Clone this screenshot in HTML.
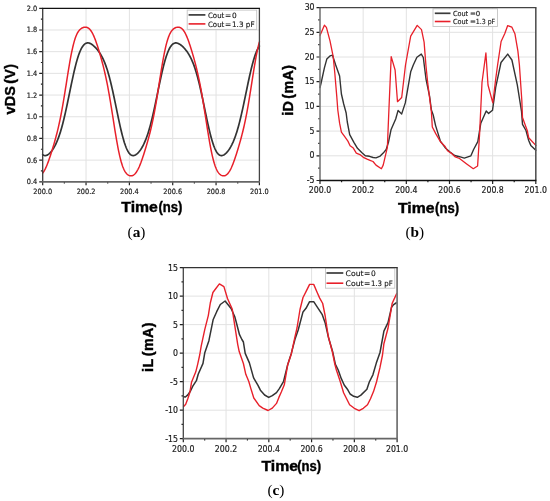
<!DOCTYPE html>
<html><head><meta charset="utf-8"><title>Figure</title><style>
html,body{margin:0;padding:0;background:#fff;}
body{width:550px;height:501px;overflow:hidden;}
svg{display:block;}
</style></head><body>
<svg width="550" height="501" viewBox="0 0 550 501">
<rect width="550" height="501" fill="#fff"/>
<path d="M42.7 160.11H259.4M42.7 138.43H259.4M42.7 116.74H259.4M42.7 95.05H259.4M42.7 73.36H259.4M42.7 51.67H259.4M42.7 29.99H259.4M86.04 8.3V181.8M129.38 8.3V181.8M172.72 8.3V181.8M216.06 8.3V181.8" stroke="#e2e2e2" stroke-width="1" fill="none"/>
<path d="M42.7 154.66 L43.24 155.02 L43.78 155.29 L44.33 155.47 L44.87 155.57 L45.41 155.57 L45.95 155.51 L46.49 155.37 L47.03 155.16 L47.58 154.88 L48.12 154.54 L48.66 154.15 L49.2 153.7 L49.74 153.19 L50.28 152.64 L50.83 152.03 L51.37 151.38 L51.91 150.67 L52.45 149.92 L52.99 149.11 L53.54 148.26 L54.08 147.35 L54.62 146.38 L55.16 145.36 L55.7 144.27 L56.24 143.13 L56.79 141.92 L57.33 140.63 L57.87 139.28 L58.41 137.86 L58.95 136.36 L59.49 134.78 L60.04 133.13 L60.58 131.39 L61.12 129.58 L61.66 127.69 L62.2 125.71 L62.74 123.66 L63.29 121.53 L63.83 119.34 L64.37 117.07 L64.91 114.73 L65.45 112.34 L66 109.89 L66.54 107.39 L67.08 104.85 L67.62 102.27 L68.16 99.67 L68.7 97.04 L69.25 94.41 L69.79 91.77 L70.33 89.13 L70.87 86.51 L71.41 83.91 L71.95 81.34 L72.5 78.81 L73.04 76.33 L73.58 73.9 L74.12 71.53 L74.66 69.24 L75.21 67.02 L75.75 64.88 L76.29 62.83 L76.83 60.87 L77.37 59.01 L77.91 57.25 L78.46 55.6 L79 54.04 L79.54 52.6 L80.08 51.26 L80.62 50.03 L81.16 48.9 L81.71 47.88 L82.25 46.97 L82.79 46.16 L83.33 45.45 L83.87 44.83 L84.41 44.31 L84.96 43.88 L85.5 43.54 L86.04 43.27 L86.58 43.09 L87.12 42.97 L87.67 42.93 L88.21 42.95 L88.75 43.03 L89.29 43.16 L89.83 43.35 L90.37 43.58 L90.92 43.85 L91.46 44.17 L92 44.53 L92.54 44.91 L93.08 45.34 L93.62 45.79 L94.17 46.27 L94.71 46.78 L95.25 47.32 L95.79 47.88 L96.33 48.47 L96.88 49.1 L97.42 49.75 L97.96 50.43 L98.5 51.15 L99.04 51.9 L99.58 52.69 L100.13 53.53 L100.67 54.4 L101.21 55.33 L101.75 56.3 L102.29 57.34 L102.83 58.42 L103.38 59.58 L103.92 60.79 L104.46 62.08 L105 63.43 L105.54 64.86 L106.08 66.37 L106.63 67.95 L107.17 69.61 L107.71 71.35 L108.25 73.18 L108.79 75.08 L109.34 77.06 L109.88 79.12 L110.42 81.26 L110.96 83.47 L111.5 85.75 L112.04 88.09 L112.59 90.49 L113.13 92.95 L113.67 95.45 L114.21 98 L114.75 100.57 L115.29 103.18 L115.84 105.8 L116.38 108.43 L116.92 111.06 L117.46 113.68 L118 116.28 L118.54 118.85 L119.09 121.39 L119.63 123.88 L120.17 126.31 L120.71 128.69 L121.25 130.99 L121.8 133.21 L122.34 135.35 L122.88 137.39 L123.42 139.34 L123.96 141.18 L124.5 142.92 L125.05 144.55 L125.59 146.06 L126.13 147.46 L126.67 148.74 L127.21 149.9 L127.75 150.95 L128.3 151.89 L128.84 152.71 L129.38 153.42 L129.92 154.02 L130.46 154.52 L131.01 154.91 L131.55 155.21 L132.09 155.42 L132.63 155.54 L133.17 155.58 L133.71 155.54 L134.26 155.42 L134.8 155.24 L135.34 154.99 L135.88 154.67 L136.42 154.3 L136.96 153.87 L137.51 153.39 L138.05 152.86 L138.59 152.27 L139.13 151.64 L139.67 150.96 L140.21 150.23 L140.76 149.45 L141.3 148.61 L141.84 147.73 L142.38 146.79 L142.92 145.8 L143.47 144.74 L144.01 143.63 L144.55 142.45 L145.09 141.2 L145.63 139.89 L146.17 138.5 L146.72 137.04 L147.26 135.51 L147.8 133.9 L148.34 132.21 L148.88 130.44 L149.42 128.59 L149.97 126.66 L150.51 124.65 L151.05 122.57 L151.59 120.41 L152.13 118.19 L152.68 115.9 L153.22 113.54 L153.76 111.13 L154.3 108.66 L154.84 106.15 L155.38 103.6 L155.93 101.02 L156.47 98.42 L157.01 95.8 L157.55 93.17 L158.09 90.54 L158.63 87.92 L159.18 85.32 L159.72 82.74 L160.26 80.2 L160.8 77.7 L161.34 75.25 L161.89 72.86 L162.43 70.53 L162.97 68.28 L163.51 66.1 L164.05 64.01 L164.59 62.01 L165.14 60.1 L165.68 58.28 L166.22 56.57 L166.76 54.96 L167.3 53.46 L167.84 52.06 L168.39 50.77 L168.93 49.58 L169.47 48.5 L170.01 47.53 L170.55 46.66 L171.09 45.89 L171.64 45.21 L172.18 44.64 L172.72 44.15 L173.26 43.75 L173.8 43.44 L174.35 43.2 L174.89 43.04 L175.43 42.95 L175.97 42.93 L176.51 42.97 L177.05 43.06 L177.6 43.21 L178.14 43.41 L178.68 43.66 L179.22 43.95 L179.76 44.27 L180.3 44.64 L180.85 45.04 L181.39 45.46 L181.93 45.92 L182.47 46.41 L183.01 46.93 L183.56 47.47 L184.1 48.04 L184.64 48.64 L185.18 49.26 L185.72 49.92 L186.26 50.61 L186.81 51.33 L187.35 52.09 L187.89 52.89 L188.43 53.73 L188.97 54.61 L189.51 55.55 L190.06 56.53 L190.6 57.57 L191.14 58.67 L191.68 59.83 L192.22 61.05 L192.76 62.35 L193.31 63.71 L193.85 65.15 L194.39 66.66 L194.93 68.25 L195.47 69.92 L196.02 71.67 L196.56 73.5 L197.1 75.41 L197.64 77.4 L198.18 79.47 L198.72 81.61 L199.27 83.82 L199.81 86.1 L200.35 88.44 L200.89 90.84 L201.43 93.29 L201.97 95.79 L202.52 98.33 L203.06 100.9 L203.6 103.5 L204.14 106.11 L204.68 108.73 L205.22 111.35 L205.77 113.95 L206.31 116.54 L206.85 119.1 L207.39 121.62 L207.93 124.1 L208.48 126.52 L209.02 128.88 L209.56 131.16 L210.1 133.37 L210.64 135.49 L211.18 137.52 L211.73 139.45 L212.27 141.28 L212.81 143.01 L213.35 144.62 L213.89 146.12 L214.43 147.51 L214.98 148.78 L215.52 149.94 L216.06 150.98 L216.6 151.91 L217.14 152.72 L217.69 153.43 L218.23 154.03 L218.77 154.52 L219.31 154.91 L219.85 155.21 L220.39 155.42 L220.94 155.54 L221.48 155.58 L222.02 155.54 L222.56 155.43 L223.1 155.24 L223.64 155 L224.19 154.69 L224.73 154.32 L225.27 153.89 L225.81 153.42 L226.35 152.89 L226.89 152.31 L227.44 151.68 L227.98 151 L228.52 150.28 L229.06 149.5 L229.6 148.68 L230.15 147.8 L230.69 146.87 L231.23 145.88 L231.77 144.84 L232.31 143.74 L232.85 142.57 L233.4 141.33 L233.94 140.03 L234.48 138.66 L235.02 137.22 L235.56 135.7 L236.1 134.1 L236.65 132.43 L237.19 130.67 L237.73 128.84 L238.27 126.93 L238.81 124.94 L239.36 122.88 L239.9 120.75 L240.44 118.54 L240.98 116.27 L241.52 113.93 L242.06 111.54 L242.61 109.09 L243.15 106.6 L243.69 104.07 L244.23 101.5 L244.77 98.91 L245.31 96.3 L245.86 93.69 L246.4 91.07 L246.94 88.46 L247.48 85.86 L248.02 83.29 L248.56 80.75 L249.11 78.25 L249.65 75.8 L250.19 73.4 L250.73 71.07 L251.27 68.81 L251.82 66.62 L252.36 64.52 L252.9 62.5 L253.44 60.57 L253.98 58.74 L254.52 57.01 L255.07 55.38 L255.61 53.85 L256.15 52.43 L256.69 51.12 L257.23 49.91 L257.77 48.8 L258.32 47.8 L258.86 46.91 L259.4 46.11" stroke="#333333" stroke-width="1.7" fill="none" stroke-linejoin="round" stroke-linecap="round"/>
<path d="M42.7 173.02 L43.24 172.3 L43.78 171.49 L44.33 170.6 L44.87 169.63 L45.41 168.57 L45.95 167.43 L46.49 166.21 L47.03 164.92 L47.58 163.56 L48.12 162.14 L48.66 160.66 L49.2 159.12 L49.74 157.54 L50.28 155.92 L50.83 154.26 L51.37 152.56 L51.91 150.83 L52.45 149.07 L52.99 147.29 L53.54 145.47 L54.08 143.62 L54.62 141.73 L55.16 139.8 L55.7 137.83 L56.24 135.81 L56.79 133.73 L57.33 131.59 L57.87 129.38 L58.41 127.08 L58.95 124.7 L59.49 122.23 L60.04 119.67 L60.58 117.01 L61.12 114.25 L61.66 111.38 L62.2 108.42 L62.74 105.37 L63.29 102.23 L63.83 99 L64.37 95.71 L64.91 92.36 L65.45 88.96 L66 85.54 L66.54 82.1 L67.08 78.66 L67.62 75.25 L68.16 71.87 L68.7 68.56 L69.25 65.32 L69.79 62.17 L70.33 59.13 L70.87 56.22 L71.41 53.43 L71.95 50.8 L72.5 48.31 L73.04 45.99 L73.58 43.83 L74.12 41.84 L74.66 40.01 L75.21 38.34 L75.75 36.83 L76.29 35.47 L76.83 34.26 L77.37 33.18 L77.91 32.22 L78.46 31.38 L79 30.65 L79.54 30.01 L80.08 29.46 L80.62 28.98 L81.16 28.57 L81.71 28.22 L82.25 27.92 L82.79 27.68 L83.33 27.48 L83.87 27.33 L84.41 27.22 L84.96 27.16 L85.5 27.16 L86.04 27.2 L86.58 27.3 L87.12 27.46 L87.67 27.69 L88.21 27.99 L88.75 28.37 L89.29 28.83 L89.83 29.37 L90.37 30 L90.92 30.72 L91.46 31.53 L92 32.43 L92.54 33.42 L93.08 34.5 L93.62 35.67 L94.17 36.92 L94.71 38.24 L95.25 39.64 L95.79 41.11 L96.33 42.63 L96.88 44.22 L97.42 45.85 L97.96 47.54 L98.5 49.26 L99.04 51.03 L99.58 52.84 L100.13 54.69 L100.67 56.57 L101.21 58.5 L101.75 60.47 L102.29 62.49 L102.83 64.56 L103.38 66.68 L103.92 68.87 L104.46 71.13 L105 73.47 L105.54 75.89 L106.08 78.39 L106.63 80.98 L107.17 83.67 L107.71 86.45 L108.25 89.33 L108.79 92.3 L109.34 95.37 L109.88 98.52 L110.42 101.75 L110.96 105.05 L111.5 108.41 L112.04 111.81 L112.59 115.25 L113.13 118.71 L113.67 122.16 L114.21 125.6 L114.75 129.01 L115.29 132.37 L115.84 135.66 L116.38 138.87 L116.92 141.98 L117.46 144.98 L118 147.85 L118.54 150.59 L119.09 153.19 L119.63 155.63 L120.17 157.91 L120.71 160.04 L121.25 162 L121.8 163.81 L122.34 165.46 L122.88 166.95 L123.42 168.3 L123.96 169.51 L124.5 170.59 L125.05 171.54 L125.59 172.38 L126.13 173.11 L126.67 173.74 L127.21 174.27 L127.75 174.72 L128.3 175.09 L128.84 175.38 L129.38 175.61 L129.92 175.76 L130.46 175.85 L131.01 175.87 L131.55 175.82 L132.09 175.7 L132.63 175.51 L133.17 175.25 L133.71 174.92 L134.26 174.5 L134.8 174.01 L135.34 173.43 L135.88 172.76 L136.42 172.01 L136.96 171.17 L137.51 170.24 L138.05 169.23 L138.59 168.13 L139.13 166.96 L139.67 165.7 L140.21 164.38 L140.76 162.99 L141.3 161.53 L141.84 160.02 L142.38 158.46 L142.92 156.86 L143.47 155.21 L144.01 153.52 L144.55 151.81 L145.09 150.06 L145.63 148.28 L146.17 146.47 L146.72 144.63 L147.26 142.75 L147.8 140.84 L148.34 138.89 L148.88 136.89 L149.42 134.83 L149.97 132.71 L150.51 130.52 L151.05 128.26 L151.59 125.92 L152.13 123.48 L152.68 120.96 L153.22 118.33 L153.76 115.61 L154.3 112.78 L154.84 109.86 L155.38 106.84 L155.93 103.72 L156.47 100.52 L157.01 97.24 L157.55 93.9 L158.09 90.51 L158.63 87.08 L159.18 83.63 L159.72 80.18 L160.26 76.74 L160.8 73.33 L161.34 69.97 L161.89 66.68 L162.43 63.48 L162.97 60.38 L163.51 57.4 L164.05 54.55 L164.59 51.84 L165.14 49.29 L165.68 46.89 L166.22 44.65 L166.76 42.59 L167.3 40.69 L167.84 38.95 L168.39 37.38 L168.93 35.96 L169.47 34.68 L170.01 33.55 L170.55 32.55 L171.09 31.67 L171.64 30.89 L172.18 30.22 L172.72 29.64 L173.26 29.13 L173.8 28.7 L174.35 28.32 L174.89 28.01 L175.43 27.75 L175.97 27.54 L176.51 27.37 L177.05 27.25 L177.6 27.18 L178.14 27.15 L178.68 27.18 L179.22 27.27 L179.76 27.41 L180.3 27.62 L180.85 27.9 L181.39 28.26 L181.93 28.7 L182.47 29.22 L183.01 29.83 L183.56 30.53 L184.1 31.32 L184.64 32.2 L185.18 33.18 L185.72 34.24 L186.26 35.39 L186.81 36.63 L187.35 37.94 L187.89 39.33 L188.43 40.79 L188.97 42.31 L189.51 43.89 L190.06 45.52 L190.6 47.2 L191.14 48.93 L191.68 50.69 L192.22 52.5 L192.76 54.35 L193.31 56.24 L193.85 58.16 L194.39 60.13 L194.93 62.15 L195.47 64.22 L196.02 66.35 L196.56 68.54 L197.1 70.8 L197.64 73.13 L198.18 75.55 L198.72 78.05 L199.27 80.64 L199.81 83.33 L200.35 86.11 L200.89 88.99 L201.43 91.96 L201.97 95.03 L202.52 98.19 L203.06 101.42 L203.6 104.73 L204.14 108.1 L204.68 111.52 L205.22 114.97 L205.77 118.43 L206.31 121.91 L206.85 125.36 L207.39 128.79 L207.93 132.17 L208.48 135.48 L209.02 138.71 L209.56 141.83 L210.1 144.85 L210.64 147.74 L211.18 150.5 L211.73 153.11 L212.27 155.56 L212.81 157.86 L213.35 160 L213.89 161.97 L214.43 163.79 L214.98 165.45 L215.52 166.95 L216.06 168.31 L216.6 169.52 L217.14 170.6 L217.69 171.56 L218.23 172.39 L218.77 173.12 L219.31 173.75 L219.85 174.29 L220.39 174.74 L220.94 175.1 L221.48 175.4 L222.02 175.62 L222.56 175.77 L223.1 175.85 L223.64 175.87 L224.19 175.81 L224.73 175.69 L225.27 175.5 L225.81 175.23 L226.35 174.89 L226.89 174.46 L227.44 173.96 L227.98 173.37 L228.52 172.69 L229.06 171.92 L229.6 171.07 L230.15 170.13 L230.69 169.11 L231.23 167.99 L231.77 166.8 L232.31 165.54 L232.85 164.2 L233.4 162.79 L233.94 161.32 L234.48 159.8 L235.02 158.22 L235.56 156.6 L236.1 154.94 L236.65 153.24 L237.19 151.51 L237.73 149.75 L238.27 147.96 L238.81 146.14 L239.36 144.28 L239.9 142.39 L240.44 140.47 L240.98 138.49 L241.52 136.47 L242.06 134.4 L242.61 132.26 L243.15 130.04 L243.69 127.75 L244.23 125.38 L244.77 122.92 L245.31 120.36 L245.86 117.7 L246.4 114.94 L246.94 112.08 L247.48 109.11 L248.02 106.05 L248.56 102.9 L249.11 99.67 L249.65 96.36 L250.19 92.99 L250.73 89.57 L251.27 86.12 L251.82 82.65 L252.36 79.19 L252.9 75.74 L253.44 72.33 L253.98 68.98 L254.52 65.7 L255.07 62.51 L255.61 59.44 L256.15 56.48 L256.69 53.66 L257.23 50.99 L257.77 48.48 L258.32 46.12 L258.86 43.94 L259.4 41.92" stroke="#e8202a" stroke-width="1.5" fill="none" stroke-linejoin="round" stroke-linecap="round"/>
<rect x="187.2" y="10.1" width="69.5" height="19.3" fill="#fff" stroke="#c4c4c4" stroke-width="0.9"/>
<line x1="188.6" y1="14.9" x2="205.4" y2="14.9" stroke="#3a3a3a" stroke-width="1.7"/>
<line x1="188.6" y1="23.9" x2="205.4" y2="23.9" stroke="#e8202a" stroke-width="1.6"/>
<g font-family='"DejaVu Sans", "Liberation Sans", sans-serif' font-size="7.4" fill="#1a1a1a" stroke="#1a1a1a" stroke-width="0.15"><text x="208" y="17.6"><tspan textLength="16.3" lengthAdjust="spacingAndGlyphs">Cout</tspan> <tspan x="225">=</tspan><tspan x="232">0</tspan></text><text x="208" y="26.6"><tspan textLength="16.3" lengthAdjust="spacingAndGlyphs">Cout</tspan> <tspan x="225">=</tspan><tspan x="232" textLength="22.6" lengthAdjust="spacingAndGlyphs">1.3 pF</tspan></text></g>
<path d="M39.2 181.8H42.7M40.9 170.96H42.7M39.2 160.11H42.7M40.9 149.27H42.7M39.2 138.43H42.7M40.9 127.58H42.7M39.2 116.74H42.7M40.9 105.89H42.7M39.2 95.05H42.7M40.9 84.21H42.7M39.2 73.36H42.7M40.9 62.52H42.7M39.2 51.67H42.7M40.9 40.83H42.7M39.2 29.99H42.7M40.9 19.14H42.7M39.2 8.3H42.7M42.7 181.8V185.3M64.37 181.8V183.6M86.04 181.8V185.3M107.71 181.8V183.6M129.38 181.8V185.3M151.05 181.8V183.6M172.72 181.8V185.3M194.39 181.8V183.6M216.06 181.8V185.3M237.73 181.8V183.6M259.4 181.8V185.3" stroke="#222" stroke-width="1.2" fill="none"/>
<path d="M42.7 8.3V181.8" stroke="#3a3a3a" stroke-width="1.3" fill="none"/>
<path d="M259.4 8.3V181.8" stroke="#444" stroke-width="1.3" fill="none"/>
<path d="M42.1 181.8H260" stroke="#666" stroke-width="1.8" fill="none"/>
<path d="M42.1 8.3H260" stroke="#111" stroke-width="1.2" fill="none"/>
<g font-family='"DejaVu Sans Condensed", "DejaVu Sans", "Liberation Sans", sans-serif' font-size="7.3" fill="#1a1a1a" stroke="#1a1a1a" stroke-width="0.18"><text x="37.3" y="184.26" text-anchor="end">0.4</text><text x="37.3" y="162.57" text-anchor="end">0.6</text><text x="37.3" y="140.89" text-anchor="end">0.8</text><text x="37.3" y="119.2" text-anchor="end">1.0</text><text x="37.3" y="97.51" text-anchor="end">1.2</text><text x="37.3" y="75.82" text-anchor="end">1.4</text><text x="37.3" y="54.14" text-anchor="end">1.6</text><text x="37.3" y="32.45" text-anchor="end">1.8</text><text x="37.3" y="10.76" text-anchor="end">2.0</text><text x="42.7" y="193.86" text-anchor="middle">200.0</text><text x="86.04" y="193.86" text-anchor="middle">200.2</text><text x="129.38" y="193.86" text-anchor="middle">200.4</text><text x="172.72" y="193.86" text-anchor="middle">200.6</text><text x="216.06" y="193.86" text-anchor="middle">200.8</text><text x="259.4" y="193.86" text-anchor="middle">201.0</text></g>
<path d="M320 155.8H535.8M320 131.1H535.8M320 106.4H535.8M320 81.7H535.8M320 57H535.8M320 32.3H535.8M363.16 7.6V180.5M406.32 7.6V180.5M449.48 7.6V180.5M492.64 7.6V180.5" stroke="#e2e2e2" stroke-width="1" fill="none"/>
<path d="M320 87.5 L321.2 82.5 L324.4 67.9 L326.8 59.1 L330 55.9 L332.5 55.2 L335.6 64.7 L339.6 76 L341.4 94 L343.7 104 L346.1 112.7 L347.3 122 L349.7 134.6 L353.9 142.3 L357.5 148.3 L361.7 152.5 L365.3 155.7 L369.5 156.3 L373.1 157.5 L376 157.9 L380.2 156.1 L383.2 153.1 L386.2 149.5 L388.6 141.7 L391 129.8 L395.7 119 L398.1 110.4 L401.7 113.9 L405.3 102.9 L410.7 71.8 L413.3 65 L416.9 57.2 L421.3 54.1 L423.3 57.5 L426 79 L429.6 96.3 L431.4 110 L433.2 115 L435.6 125.6 L440.4 141.1 L445.7 148.3 L450 152 L454.7 155.5 L459.5 156.7 L464.3 158.1 L470.9 155.8 L473.6 149.5 L477.8 141.7 L480.8 123.2 L486.2 111 L488.6 113.4 L492.5 110.3 L495.7 87.3 L501 62.5 L507.7 54.1 L511.9 60 L517.3 84.9 L519.7 100 L521.5 111.3 L522.5 124.4 L526 130.5 L528.7 140.5 L530.8 145.4 L535.8 150.3" stroke="#333333" stroke-width="1.4" fill="none" stroke-linejoin="round" stroke-linecap="round"/>
<path d="M320 35.5 L324.4 25.2 L326.4 27.4 L330 40.8 L333.2 56.7 L334.8 73 L336.8 96.7 L337.8 110 L339.6 123.2 L341.4 132.2 L344.9 136.9 L347.9 141.1 L350.1 145.7 L353.3 148.1 L356.3 153.1 L359.9 154.6 L363.3 157.3 L367.1 159.1 L370 160.3 L373 161.5 L376 165.1 L381.4 168.7 L383.2 165.1 L387.4 147.1 L388 131.6 L388.9 110 L391.2 56.6 L395.1 70 L397.5 101.7 L401.7 97.5 L405.5 65 L410.7 36.1 L417.2 25.4 L421.5 29.6 L424.1 42.1 L425.9 65 L427.8 83.7 L431.4 112 L432.3 127 L435.6 133.4 L440.4 141.7 L445.1 146.5 L447.5 150.7 L451.1 153.1 L455.3 156.9 L459.5 158.5 L466.7 163.9 L473.3 168.7 L477.6 166 L479.6 134 L482 82.5 L485.9 53 L488 85 L492.8 102.9 L495.7 79 L497.6 65 L501.1 41.5 L504.7 33.7 L507.7 25.6 L511.9 27.2 L514.9 33.7 L517.9 51.1 L519.4 65 L521.8 100 L522.5 117.5 L527.3 130.7 L528.7 137.7 L535.8 145.4" stroke="#e8202a" stroke-width="1.3" fill="none" stroke-linejoin="round" stroke-linecap="round"/>
<rect x="433" y="8.8" width="64.5" height="17.7" fill="#fff" stroke="#c4c4c4" stroke-width="0.9"/>
<line x1="434.8" y1="13.3" x2="450.5" y2="13.3" stroke="#3a3a3a" stroke-width="1.7"/>
<line x1="434.8" y1="21.5" x2="450.5" y2="21.5" stroke="#e8202a" stroke-width="1.6"/>
<g font-family='"DejaVu Sans", "Liberation Sans", sans-serif' font-size="7.0" fill="#1a1a1a" stroke="#1a1a1a" stroke-width="0.15"><text x="452.9" y="15.85"><tspan textLength="15.3" lengthAdjust="spacingAndGlyphs">Cout</tspan> <tspan x="470.1">=</tspan><tspan x="475.8">0</tspan></text><text x="452.9" y="24.05"><tspan textLength="15.3" lengthAdjust="spacingAndGlyphs">Cout</tspan> <tspan x="470.1">=</tspan><tspan x="475.8" textLength="19.4" lengthAdjust="spacingAndGlyphs">1.3 pF</tspan></text></g>
<path d="M316.5 180.5H320M318.2 168.15H320M316.5 155.8H320M318.2 143.45H320M316.5 131.1H320M318.2 118.75H320M316.5 106.4H320M318.2 94.05H320M316.5 81.7H320M318.2 69.35H320M316.5 57H320M318.2 44.65H320M316.5 32.3H320M318.2 19.95H320M316.5 7.6H320M320 180.5V184M341.58 180.5V182.3M363.16 180.5V184M384.74 180.5V182.3M406.32 180.5V184M427.9 180.5V182.3M449.48 180.5V184M471.06 180.5V182.3M492.64 180.5V184M514.22 180.5V182.3M535.8 180.5V184" stroke="#222" stroke-width="1.2" fill="none"/>
<path d="M320 7.6V180.5" stroke="#777" stroke-width="1.6" fill="none"/>
<path d="M535.8 7.6V180.5" stroke="#555" stroke-width="1.6" fill="none"/>
<path d="M319.4 180.5H536.4" stroke="#111" stroke-width="1.3" fill="none"/>
<path d="M319.4 7.6H536.4" stroke="#444" stroke-width="1.3" fill="none"/>
<g font-family='"DejaVu Sans Condensed", "DejaVu Sans", "Liberation Sans", sans-serif' font-size="8.7" fill="#1a1a1a" stroke="#1a1a1a" stroke-width="0.18"><text x="314.6" y="183.17" text-anchor="end">-5</text><text x="314.6" y="158.47" text-anchor="end">0</text><text x="314.6" y="133.77" text-anchor="end">5</text><text x="314.6" y="109.07" text-anchor="end">10</text><text x="314.6" y="84.37" text-anchor="end">15</text><text x="314.6" y="59.67" text-anchor="end">20</text><text x="314.6" y="34.97" text-anchor="end">25</text><text x="314.6" y="10.27" text-anchor="end">30</text><text x="320" y="193.27" text-anchor="middle">200.0</text><text x="363.16" y="193.27" text-anchor="middle">200.2</text><text x="406.32" y="193.27" text-anchor="middle">200.4</text><text x="449.48" y="193.27" text-anchor="middle">200.6</text><text x="492.64" y="193.27" text-anchor="middle">200.8</text><text x="535.8" y="193.27" text-anchor="middle">201.0</text></g>
<path d="M183.3 410.18H397.1M183.3 381.67H397.1M183.3 353.15H397.1M183.3 324.63H397.1M183.3 296.12H397.1M226.06 267.6V438.7M268.82 267.6V438.7M311.58 267.6V438.7M354.34 267.6V438.7" stroke="#e2e2e2" stroke-width="1" fill="none"/>
<path d="M183.6 396.7 L185.4 397 L187.8 394.9 L190.5 391 L192.8 386.1 L196.4 380.7 L198.2 374.2 L203 363.4 L204.8 352.7 L208.9 340.7 L213.1 319.8 L216.7 311.7 L220.3 304.5 L225.1 301 L231.1 308.5 L234.7 316.5 L236.2 322 L239.5 334.7 L241.9 339.5 L243.4 342 L245.2 353.4 L249.4 362.9 L253.6 377.9 L258 385.4 L260.4 390.2 L264.6 395 L268.7 397.4 L272.3 395.6 L276.5 392.6 L279.5 388.4 L283.6 381.3 L287.7 364.7 L291.3 353.4 L294.9 339.6 L298.2 330 L303 311.9 L306 308.3 L309.6 301.7 L313.7 301.7 L317.3 307.1 L322.1 314.3 L325.1 322.7 L328.6 338 L332.8 352.3 L335.4 364.3 L338.2 370 L341.2 378.4 L344.2 385 L347.8 389.8 L350.1 394 L353.7 396.3 L357.3 397.3 L360.9 395.1 L366.9 389.2 L369.3 382 L372.9 374.8 L376.3 363.1 L380 352.5 L383.9 331.1 L388 322.7 L391.5 307.3 L393.6 304.6 L396.8 302.5" stroke="#333333" stroke-width="1.5" fill="none" stroke-linejoin="round" stroke-linecap="round"/>
<path d="M183.6 406.6 L185.7 404.2 L187.8 398.8 L189.9 392.2 L191.6 381.9 L195.8 371.8 L197.6 364.6 L199.7 355 L201.2 346.1 L204.8 329.3 L208.3 315.6 L210.3 303 L212.9 292.5 L215.5 289 L219.4 283.9 L223.9 286.6 L227.5 298.5 L232.3 309.3 L234.7 325.1 L237.7 344.3 L239.2 351.6 L243.4 363.5 L245.8 374.3 L248.8 381.5 L250.8 388.4 L253.8 398 L259.2 405.7 L262.8 408.1 L268.1 410.5 L272.3 408.1 L276.5 403.4 L278.9 397.4 L281.3 392 L284.3 384.8 L287.7 364.7 L291.3 354 L294.9 337.2 L297 328 L300 309.5 L303 297.5 L306 291.6 L309.6 284.4 L313.7 284.4 L317.3 292.8 L319.7 298.1 L322.7 303.5 L325.1 315.5 L328.2 336 L332.4 352 L334.8 364 L336.4 370 L340 380.8 L343.6 392.8 L346.6 398.7 L349.6 404.7 L354.3 408.3 L359.1 410.7 L363.3 408.3 L367.5 404.7 L370.5 398.7 L373.5 391.6 L376.5 382 L379.9 367.9 L382.5 355 L383.9 343.7 L388 328.3 L392.2 303.2 L396.8 293.4" stroke="#e8202a" stroke-width="1.4" fill="none" stroke-linejoin="round" stroke-linecap="round"/>
<rect x="325.5" y="268.2" width="69.3" height="20" fill="#fff" stroke="#c4c4c4" stroke-width="0.9"/>
<line x1="326.5" y1="273" x2="343.3" y2="273" stroke="#3a3a3a" stroke-width="1.7"/>
<line x1="326.5" y1="283.2" x2="343.3" y2="283.2" stroke="#e8202a" stroke-width="1.6"/>
<g font-family='"DejaVu Sans", "Liberation Sans", sans-serif' font-size="7.5" fill="#1a1a1a" stroke="#1a1a1a" stroke-width="0.15"><text x="345.6" y="275.75"><tspan textLength="18" lengthAdjust="spacingAndGlyphs">Cout</tspan> <tspan x="364.1">=</tspan><tspan x="370.9">0</tspan></text><text x="345.6" y="285.95"><tspan textLength="18" lengthAdjust="spacingAndGlyphs">Cout</tspan> <tspan x="364.1">=</tspan><tspan x="370.9" textLength="21.8" lengthAdjust="spacingAndGlyphs">1.3 pF</tspan></text></g>
<path d="M179.8 438.7H183.3M181.5 424.44H183.3M179.8 410.18H183.3M181.5 395.93H183.3M179.8 381.67H183.3M181.5 367.41H183.3M179.8 353.15H183.3M181.5 338.89H183.3M179.8 324.63H183.3M181.5 310.38H183.3M179.8 296.12H183.3M181.5 281.86H183.3M179.8 267.6H183.3M183.3 438.7V442.2M204.68 438.7V440.5M226.06 438.7V442.2M247.44 438.7V440.5M268.82 438.7V442.2M290.2 438.7V440.5M311.58 438.7V442.2M332.96 438.7V440.5M354.34 438.7V442.2M375.72 438.7V440.5M397.1 438.7V442.2" stroke="#222" stroke-width="1.2" fill="none"/>
<path d="M183.3 267.6V438.7" stroke="#444" stroke-width="1.3" fill="none"/>
<path d="M397.1 267.6V438.7" stroke="#777" stroke-width="1.8" fill="none"/>
<path d="M182.7 438.7H397.7" stroke="#666" stroke-width="1.8" fill="none"/>
<path d="M182.7 267.6H397.7" stroke="#333" stroke-width="1.3" fill="none"/>
<g font-family='"DejaVu Sans Condensed", "DejaVu Sans", "Liberation Sans", sans-serif' font-size="8.7" fill="#1a1a1a" stroke="#1a1a1a" stroke-width="0.18"><text x="177.9" y="441.67" text-anchor="end">-15</text><text x="177.9" y="413.15" text-anchor="end">-10</text><text x="177.9" y="384.64" text-anchor="end">-5</text><text x="177.9" y="356.12" text-anchor="end">0</text><text x="177.9" y="327.6" text-anchor="end">5</text><text x="177.9" y="299.09" text-anchor="end">10</text><text x="177.9" y="270.57" text-anchor="end">15</text><text x="183.3" y="451.77" text-anchor="middle">200.0</text><text x="226.06" y="451.77" text-anchor="middle">200.2</text><text x="268.82" y="451.77" text-anchor="middle">200.4</text><text x="311.58" y="451.77" text-anchor="middle">200.6</text><text x="354.34" y="451.77" text-anchor="middle">200.8</text><text x="397.1" y="451.77" text-anchor="middle">201.0</text></g>

<g font-family='"Liberation Sans", "DejaVu Sans", sans-serif' font-weight="bold" font-size="14.2" fill="#000" stroke="#000" stroke-width="0.4" word-spacing="-2.2">
<text x="121.3" y="212"><tspan textLength="36.6" lengthAdjust="spacingAndGlyphs">Time</tspan> <tspan x="158.4" textLength="24.0" lengthAdjust="spacingAndGlyphs">(ns)</tspan></text>
<text x="398.0" y="213"><tspan textLength="36.6" lengthAdjust="spacingAndGlyphs">Time</tspan> <tspan x="435.1" textLength="24.0" lengthAdjust="spacingAndGlyphs">(ns)</tspan></text>
<text x="261.5" y="471"><tspan textLength="36.6" lengthAdjust="spacingAndGlyphs">Time</tspan> <tspan x="297.2" textLength="24.0" lengthAdjust="spacingAndGlyphs">(ns)</tspan></text>
<text transform="translate(14.7,114.6) rotate(-90)" font-size="14.5" textLength="50.6" lengthAdjust="spacing">vDS (V)</text>
<text transform="translate(292.7,115.7) rotate(-90)" font-size="14.3" textLength="50.6" lengthAdjust="spacing">iD (mA)</text>
<text transform="translate(153.3,371.9) rotate(-90)" font-size="14.3" textLength="49.5" lengthAdjust="spacing">iL (mA)</text>
</g>
<g font-family='"Liberation Serif", "DejaVu Serif", serif' font-size="15.3" fill="#000">
<text x="127.6" y="236.6">(<tspan font-weight="bold">a</tspan>)</text>
<text x="405.4" y="236.6">(<tspan font-weight="bold">b</tspan>)</text>
<text x="267.4" y="495">(<tspan font-weight="bold">c</tspan>)</text>
</g>

</svg>
</body></html>
